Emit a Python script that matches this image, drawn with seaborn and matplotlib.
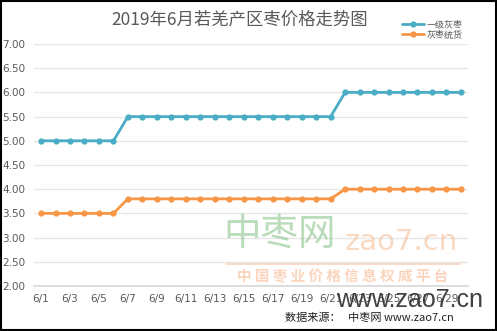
import matplotlib
matplotlib.use("Agg")
import matplotlib.pyplot as plt
import seaborn as sns
import pandas as pd
import numpy as np

days = [f"6/{d}" for d in range(1, 31)]
grade1 = [5.0]*6 + [5.5]*15 + [6.0]*9
general = [3.5]*6 + [3.8]*15 + [4.0]*9
series_names = ["一级灰枣", "灰枣统货"]
tick_labels = [f"6/{d}" for d in range(1, 31, 2)]
y_ticks = [2.0, 2.5, 3.0, 3.5, 4.0, 4.5, 5.0, 5.5, 6.0, 6.5, 7.0]

sns.set_theme(style="white")
plt.rcParams['font.family'] = ['Noto Sans CJK SC', 'DejaVu Sans']

df = pd.DataFrame({
    "day": list(range(len(days))) * 2,
    "price": grade1 + general,
    "series": [series_names[0]] * len(days) + [series_names[1]] * len(days),
})

fig = plt.figure(figsize=(4.97, 3.31), dpi=100)
ax = fig.add_axes([0.068, 0.136, 0.874, 0.731])

palette = {series_names[0]: "#4BACC6", series_names[1]: "#F79646"}
sns.lineplot(data=df, x="day", y="price", hue="series", palette=palette,
             marker="o", markersize=4.5, markeredgewidth=0, linewidth=2, ax=ax, legend=True)

ax.set_xlim(-0.5, len(days) - 0.5)
ax.set_ylim(2.0, 7.0)
ax.set_yticks(y_ticks)
ax.set_yticklabels([f"{v:.2f}" for v in y_ticks])
ax.yaxis.grid(True, color="#E6E6E6", linewidth=1)
ax.set_axisbelow(True)
ax.set_xticks([days.index(t) for t in tick_labels])
ax.set_xticklabels(tick_labels)
ax.set_xticks(np.arange(-0.5, len(days), 2), minor=True)
ax.tick_params(axis="x", which="major", length=0, labelsize=7.5, colors="#595959", pad=6)
ax.tick_params(axis="x", which="minor", length=4, color="#D9D9D9", width=0.8)
ax.tick_params(axis="y", length=0, labelsize=7.5, colors="#595959", pad=6)
for lbl in ax.get_xticklabels() + ax.get_yticklabels():
    lbl.set_family(["DejaVu Sans"])
ax.set_xlabel("")
ax.set_ylabel("")
for s in ["top", "right", "left"]:
    ax.spines[s].set_visible(False)
ax.spines["bottom"].set_color("#D9D9D9")

leg = ax.legend(loc="upper left", bbox_to_anchor=(0.837, 1.118), frameon=False,
                fontsize=6.5, handlelength=2.4, labelspacing=0.15, borderpad=0,
                handletextpad=0.3)
for t in leg.get_texts():
    t.set_color("#595959")

fig.text(0.483, 0.942, "2019年6月若羌产区枣价格走势图", ha="center", va="center",
         fontsize=12.5, color="#595959")

# watermarks
fig.text(0.450, 0.292, "中枣网", fontsize=27, color="#8CC58C", alpha=0.6,
         ha="left", va="center", zorder=0)
fig.text(0.693, 0.268, "zao7.cn", fontsize=21, color="#F7B486", alpha=0.5,
         ha="left", va="center", zorder=0, family=["DejaVu Sans"])
fig.lines.append(plt.Line2D([0.455, 0.925], [0.203, 0.203], transform=fig.transFigure,
                            color="#F9C3A0", alpha=0.7, linewidth=1.2))
fig.text(0.69, 0.165, "中 国 枣 业 价 格 信 息 权 威 平 台", fontsize=10.5, color="#F9C3A0",
         alpha=0.7, ha="center", va="center", weight="bold", zorder=0)
fig.text(0.676, 0.093, "www.zao7.cn", fontsize=18, color="#404040", ha="left",
         va="center", family=["Liberation Sans"], zorder=5)
fig.text(0.573, 0.040, "数据来源：   中枣网 www.zao7.cn", fontsize=8, color="#222222",
         ha="left", va="center")

fig.patches.append(plt.Rectangle((0.002, 0.003), 0.996, 0.994, transform=fig.transFigure,
                                 fill=False, edgecolor="black", linewidth=1.5))

fig.savefig("out.png", dpi=100)
